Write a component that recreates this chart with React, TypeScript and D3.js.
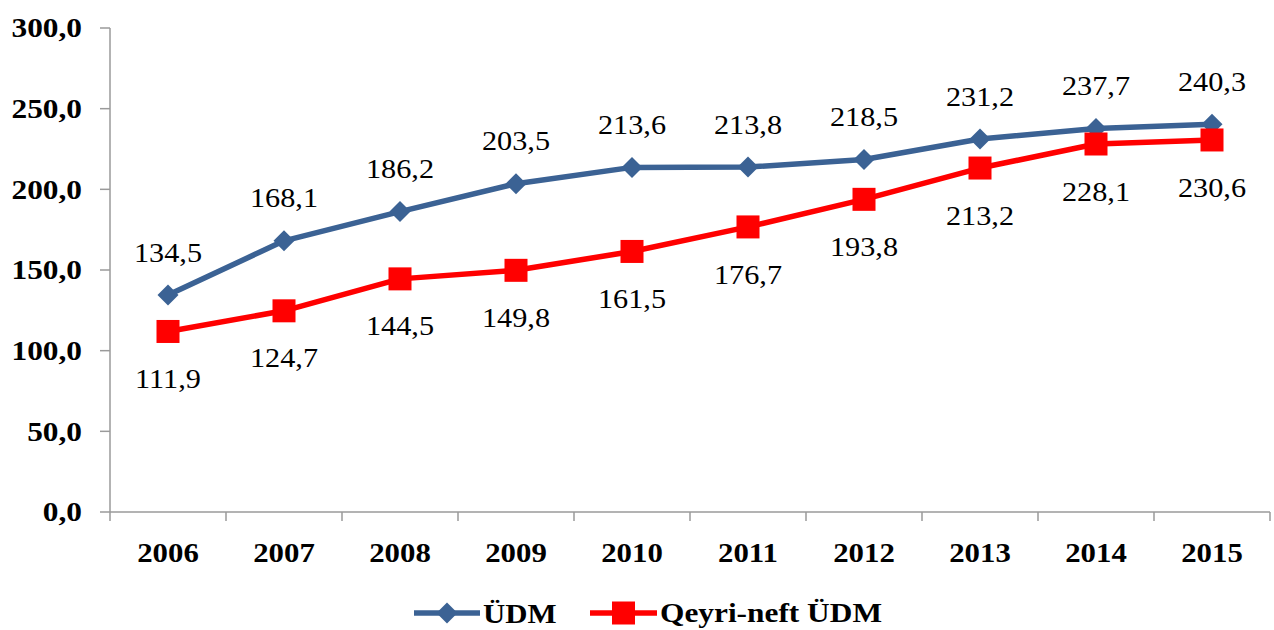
import React from "react";
import * as d3 from "d3";

const years = ["2006", "2007", "2008", "2009", "2010", "2011", "2012", "2013", "2014", "2015"];
const udm = [134.5, 168.1, 186.2, 203.5, 213.6, 213.8, 218.5, 231.2, 237.7, 240.3];
const qeyriNeft = [111.9, 124.7, 144.5, 149.8, 161.5, 176.7, 193.8, 213.2, 228.1, 230.6];
const yTicks = [0, 50, 100, 150, 200, 250, 300];
const seriesNames = ["ÜDM", "Qeyri-neft ÜDM"];

const W = 1274;
const H = 630;
const BLUE = "#3B6294";
const RED = "#FF0000";
const AXIS = "#9a9a9a";
const FONT = "'Liberation Serif', 'Times New Roman', serif";

const fmt = (v: number) => v.toFixed(1).replace(".", ",");

type TProps = {
  x: number;
  y: number;
  anchor?: "start" | "middle" | "end";
  bold?: boolean;
  size?: number;
  sx?: number;
  children: React.ReactNode;
};

function T({ x, y, anchor = "middle", bold = false, size = 28, sx = 1.1, children }: TProps) {
  return (
    <g transform={`translate(${x},${y}) scale(${sx},1)`}>
      <text
        x={0}
        y={0}
        textAnchor={anchor}
        dominantBaseline="central"
        fontWeight={bold ? "bold" : "normal"}
        fontSize={size}
      >
        {children}
      </text>
    </g>
  );
}

export default function App() {
  const x = d3.scaleBand<string>().domain(years).range([110, 1270]);
  const y = d3.scaleLinear().domain([0, 300]).range([512, 28]);
  const cx = (i: number) => (x(years[i]) as number) + x.bandwidth() / 2;
  const line = d3
    .line<number>()
    .x((_, i) => cx(i))
    .y((d) => y(d));
  const edges = years.map((yr) => x(yr) as number).concat([1270]);

  const diamond = (px: number, py: number, r: number) =>
    `M${px},${py - r}L${px + r},${py}L${px},${py + r}L${px - r},${py}Z`;

  return (
    <svg
      width={W}
      height={H}
      style={{ position: "absolute", left: 0, top: 0, background: "#fff" }}
      fontFamily={FONT}
    >
      {/* axes */}
      <line x1={110} x2={110} y1={y(300)} y2={y(0)} stroke={AXIS} strokeWidth={1.5} />
      <line x1={110} x2={1270} y1={y(0)} y2={y(0)} stroke={AXIS} strokeWidth={1.5} />
      {yTicks.map((t) => (
        <g key={t}>
          <line x1={100} x2={110} y1={y(t)} y2={y(t)} stroke={AXIS} strokeWidth={1.5} />
          <T x={82} y={y(t)} anchor="end" bold size={28} sx={1.12}>
            {fmt(t)}
          </T>
        </g>
      ))}
      {edges.map((e, i) => (
        <line key={i} x1={e} x2={e} y1={y(0)} y2={y(0) + 9} stroke={AXIS} strokeWidth={1.5} />
      ))}
      {years.map((yr, i) => (
        <T key={yr} x={cx(i)} y={552} bold size={28} sx={1.1}>
          {yr}
        </T>
      ))}

      {/* lines */}
      <path d={line(udm) as string} fill="none" stroke={BLUE} strokeWidth={5.5} strokeLinejoin="round" />
      <path d={line(qeyriNeft) as string} fill="none" stroke={RED} strokeWidth={5.5} strokeLinejoin="round" />
      {udm.map((v, i) => (
        <path key={"d" + i} d={diamond(cx(i), y(v), 10.5)} fill={BLUE} />
      ))}
      {qeyriNeft.map((v, i) => (
        <rect key={"s" + i} x={cx(i) - 11.5} y={y(v) - 11.5} width={23} height={23} fill={RED} />
      ))}

      {/* data labels */}
      {udm.map((v, i) => (
        <T key={"lu" + i} x={cx(i)} y={y(v) - 43} size={28} sx={1.08}>
          {fmt(v)}
        </T>
      ))}
      {qeyriNeft.map((v, i) => (
        <T key={"lq" + i} x={cx(i)} y={y(v) + 47} size={28} sx={1.08}>
          {fmt(v)}
        </T>
      ))}

      {/* legend */}
      <g>
        <line x1={414} x2={480} y1={613} y2={613} stroke={BLUE} strokeWidth={5.5} />
        <path d={diamond(447, 613, 10.5)} fill={BLUE} />
        <T x={483} y={613} anchor="start" bold size={28} sx={1.1}>
          {seriesNames[0]}
        </T>
        <line x1={590} x2={657} y1={613} y2={613} stroke={RED} strokeWidth={5.5} />
        <rect x={612} y={601.5} width={23} height={23} fill={RED} />
        <T x={660} y={613} anchor="start" bold size={28} sx={1.12}>
          {seriesNames[1]}
        </T>
      </g>
    </svg>
  );
}
